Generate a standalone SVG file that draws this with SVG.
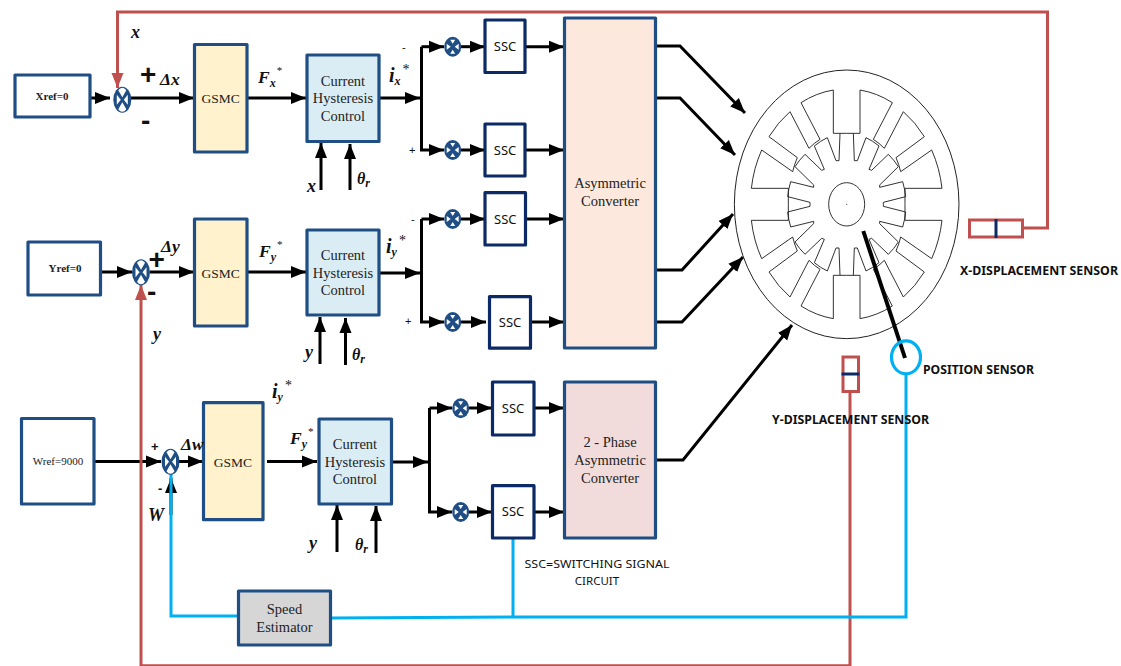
<svg xmlns="http://www.w3.org/2000/svg" width="1121" height="666" viewBox="0 0 1121 666">
<style>
.b{stroke:#1f4e85;stroke-width:3.2;stroke-linejoin:round}
.s{fill:#fff;stroke:#0b2a66;stroke-width:3.2;stroke-linejoin:round}
.w{fill:#fff}.g{fill:#fff2cc}.c{fill:#daedf4}
text{font-family:"Liberation Serif","Times New Roman",serif;fill:#222}
.t{font-size:14.5px;text-anchor:middle}
.ssc{font-family:"Noto Sans","Open Sans",sans-serif;font-size:13px;text-anchor:middle;fill:#111}
.cal{font-family:"Noto Sans","Open Sans",sans-serif;font-size:11.5px;fill:#111}
.calb{font-family:"Noto Sans","Open Sans",sans-serif;font-size:11.5px;font-weight:700;fill:#111}
.i{font-style:italic;font-weight:700;font-size:18px;fill:#111}
.d{font-size:17.5px}.th{font-size:16px}
.sub{font-size:12px}.sup{font-size:11px;font-weight:400;font-style:normal}
.sign{font-family:"Liberation Sans",Arial,sans-serif;fill:#111}
.big{font-size:28px;font-weight:700}
.k{fill:none;stroke:#000;stroke-width:3;marker-end:url(#ah)}
.r{fill:none;stroke:#c0504d;stroke-width:3}
.l{fill:none;stroke:#00b0f0;stroke-width:3}
.m{fill:none;stroke:#222;stroke-width:2.8}
</style>
<defs>
<marker id="ah" markerUnits="userSpaceOnUse" markerWidth="16" markerHeight="14" refX="15" refY="7" orient="auto"><path d="M0,1 L15,7 L0,13z" fill="#000"/></marker>
<marker id="ar" markerUnits="userSpaceOnUse" markerWidth="16" markerHeight="14" refX="15" refY="7" orient="auto"><path d="M0,1 L15,7 L0,13z" fill="#c0504d"/></marker>
<g id="q">
<path class="m" d="M0,-213 L40,-213 L40,-343 A289,344 0 0 1 137,-305 L80,-195 A180,213 0 0 1 113,-168 L170,-278 A289,344 0 0 1 233,-203 L148,-140 A180,213 0 0 1 162,-98 L255,-163 A289,344 0 0 1 286,-48 L175,-48 L175,0"/>
<path class="m" d="M20,-213 L23,-131 L32,-131 L58,-200 A180,213 0 0 1 97,-175 L67,-105 L75,-102 L125,-150 A180,213 0 0 1 155,-113 L99,-58 L99,-51 L168,-68 A180,213 0 0 1 177,-23 L110,-6 L110,0"/>
</g>
<g id="jb"><ellipse rx="9" ry="13" fill="#1f4e85"/><path fill="#fff" d="M0,-2.5 L-4,-9.5 A6,10 0 0 1 4,-9.5z M0,2.5 L-4,9.5 A6,10 0 0 0 4,9.5z M1.5,0 L5.5,-5 L5.5,5z M-1.5,0 L-5.5,-5 L-5.5,5z"/></g>
<g id="js"><ellipse rx="8.5" ry="10" fill="#1f4e85"/><path fill="#fff" d="M0,-3 L-2.5,-7 L2.5,-7z M0,3 L-2.5,7 L2.5,7z M2,0 L6,-3 L6,3z M-2,0 L-6,-3 L-6,3z"/></g>
</defs>

<g id="connectors">
<path class="k" d="M91,98H110"/>
<path class="k" d="M131,98H194"/>
<path class="k" d="M247,98H306"/>
<path class="k" d="M379,98H420"/>
<path class="k" d="M421.5,46.7V150H444"/>
<path class="k" d="M421.5,46.7H444"/>
<path class="k" d="M461,46.7H485"/>
<path class="k" d="M461,150H485"/>
<path class="k" d="M525,46.7H564"/>
<path class="k" d="M525,150H564"/>
<path class="k" d="M321,190V143"/>
<path class="k" d="M350,190V144"/>
<path class="k" d="M102,272H132"/>
<path class="k" d="M150,272H194"/>
<path class="k" d="M247,272H306"/>
<path class="k" d="M379,273H420"/>
<path class="k" d="M421.5,219V322H444"/>
<path class="k" d="M421.5,219H444"/>
<path class="k" d="M461,219H485"/>
<path class="k" d="M461,322H486"/>
<path class="k" d="M525,219H564"/>
<path class="k" d="M530,322H564"/>
<path class="k" d="M320,364V317"/>
<path class="k" d="M345.5,365V318"/>
<path class="k" d="M94,461.5H161"/>
<path class="k" d="M179,461.5H203"/>
<path class="k" d="M267,461.5H317"/>
<path class="k" d="M391,462H428"/>
<path class="k" d="M429.5,408V512H452"/>
<path class="k" d="M429.5,408H452"/>
<path class="k" d="M469,408H492"/>
<path class="k" d="M469,512H492"/>
<path class="k" d="M534,408H564"/>
<path class="k" d="M534,512H564"/>
<path class="k" d="M337,552V505"/>
<path class="k" d="M376,553V506"/>
<path class="k" d="M171,515V478"/>
<path class="k" d="M656,46H680L745,113"/>
<path class="k" d="M656,98H680L735,155"/>
<path class="k" d="M656,270H682L733,214"/>
<path class="k" d="M656,322H682L743,257"/>
<path class="k" d="M657,460H683L792,325"/>
<path class="r" marker-end="url(#ar)" d="M117.5,12V88"/>
<path class="r" d="M116,12H1047.5V228H1023"/>
<path class="r" marker-end="url(#ar)" d="M141,666V285"/>
<path class="r" d="M141,665.7H850V392"/>
<path class="l" d="M171,473V616H238"/>
<path class="l" d="M331,618L513,617H906V375"/>
<path class="l" d="M513,538V617"/>
</g>

<g id="motor">
<ellipse cx="846.67" cy="204.33" rx="112.3" ry="134.3" fill="none" stroke="#222" stroke-width="1"/>
<g transform="translate(846.67,204.33) scale(.3333)">
<use href="#q"/><use href="#q" transform="scale(-1,1)"/><use href="#q" transform="scale(1,-1)"/><use href="#q" transform="scale(-1,-1)"/>
<ellipse rx="54" ry="65" fill="#fff" stroke="#222" stroke-width="2.8"/>
<circle r="1.5" fill="#111"/>
</g>
<path d="M863.3,231L905,358" fill="none" stroke="#000" stroke-width="4"/>
</g>

<g id="xref"><rect class="b w" x="15" y="75" width="75" height="42"/><text class="t" x="52" y="100" style="font-size:11px;font-weight:700">Xref=0</text></g>
<g id="yref"><rect class="b w" x="28" y="242" width="72.5" height="53"/><text class="t" x="65" y="272" style="font-size:11px;font-weight:700">Yref=0</text></g>
<g id="wref"><rect class="b w" x="21.5" y="418.5" width="72.5" height="85.5"/><text class="t" x="58" y="465" style="font-size:11px">Wref=9000</text></g>

<g id="sum-x"><use href="#jb" x="122.3" y="99.7"/></g>
<g id="sum-y"><use href="#jb" x="141" y="272.3"/></g>
<g id="sum-w"><use href="#jb" x="170.5" y="461.7"/></g>

<g id="gsmc-1"><rect class="b g" x="194.5" y="44.5" width="52.5" height="107.5"/><text class="t" x="220.7" y="103" style="font-size:13.5px">GSMC</text></g>
<g id="gsmc-2"><rect class="b g" x="194.5" y="219" width="52.5" height="107"/><text class="t" x="220.7" y="278" style="font-size:13.5px">GSMC</text></g>
<g id="gsmc-3"><rect class="b g" x="203.5" y="402.7" width="59.5" height="117"/><text class="t" x="233" y="466.7" style="font-size:13.5px">GSMC</text></g>

<g id="chc-1"><rect class="b c" x="307" y="55" width="72" height="86.5"/><text class="t"><tspan x="343" y="85.7">Current</tspan><tspan x="343" y="103.3">Hysteresis</tspan><tspan x="343" y="121">Control</tspan></text></g>
<g id="chc-2"><rect class="b c" x="307" y="230" width="72" height="85"/><text class="t"><tspan x="343" y="260">Current</tspan><tspan x="343" y="277.5">Hysteresis</tspan><tspan x="343" y="295">Control</tspan></text></g>
<g id="chc-3"><rect class="b c" x="319" y="419" width="72.5" height="85"/><text class="t"><tspan x="355" y="449">Current</tspan><tspan x="355" y="466.5">Hysteresis</tspan><tspan x="355" y="484">Control</tspan></text></g>

<g id="j1"><use href="#js" x="452.7" y="46.7"/></g>
<g id="j2"><use href="#js" x="452.7" y="150"/></g>
<g id="j3"><use href="#js" x="452.7" y="219"/></g>
<g id="j4"><use href="#js" x="452.7" y="322"/></g>
<g id="j5"><use href="#js" x="460.7" y="408.3"/></g>
<g id="j6"><use href="#js" x="460.7" y="512"/></g>

<g id="ssc-1"><rect class="s" x="485" y="20" width="40" height="52.5"/><text class="ssc" x="505" y="51">SSC</text></g>
<g id="ssc-2"><rect class="s" x="485" y="124" width="40" height="52"/><text class="ssc" x="505" y="154.5">SSC</text></g>
<g id="ssc-3"><rect class="s" x="485" y="192.7" width="40.5" height="52.3"/><text class="ssc" x="505.3" y="223.5">SSC</text></g>
<g id="ssc-4"><rect class="s" x="489.5" y="296.7" width="41" height="51.5"/><text class="ssc" x="510" y="326.5">SSC</text></g>
<g id="ssc-5"><rect class="s" x="492.5" y="382" width="41.5" height="53"/><text class="ssc" x="513" y="413">SSC</text></g>
<g id="ssc-6"><rect class="s" x="492.5" y="485.7" width="41.5" height="52.3"/><text class="ssc" x="513" y="516">SSC</text></g>

<g id="asym"><rect class="b" x="564.5" y="18" width="91" height="330" fill="#fce8dc"/><text class="t"><tspan x="610" y="188">Asymmetric</tspan><tspan x="610" y="206">Converter</tspan></text></g>
<g id="phase2"><rect class="b" x="564.5" y="382" width="91" height="156" fill="#f2dcdb"/><text class="t"><tspan x="610" y="447">2 - Phase</tspan><tspan x="610" y="465">Asymmetric</tspan><tspan x="610" y="483">Converter</tspan></text></g>
<g id="speed"><rect class="b" x="238.5" y="591" width="92" height="54" fill="#d6d6d6"/><text class="t"><tspan x="284.5" y="614">Speed</tspan><tspan x="284.5" y="632">Estimator</tspan></text></g>

<g id="x-sensor"><rect x="969.5" y="220" width="53" height="17" fill="#fff" stroke="#c0504d" stroke-width="3"/><path d="M996,219V238" stroke="#0b2a66" stroke-width="3"/><text class="calb" x="960" y="275" textLength="158" lengthAdjust="spacingAndGlyphs">X-DISPLACEMENT SENSOR</text></g>
<g id="y-sensor"><rect x="843" y="357" width="15.5" height="34.5" fill="#fff" stroke="#c0504d" stroke-width="3"/><path d="M841.5,374H859.5" stroke="#0b2a66" stroke-width="3"/><text class="calb" x="772" y="424" textLength="157" lengthAdjust="spacingAndGlyphs">Y-DISPLACEMENT SENSOR</text></g>
<g id="position-sensor"><ellipse cx="906" cy="357.3" rx="14.5" ry="16.5" fill="none" stroke="#00b0f0" stroke-width="3.2"/><text class="calb" x="923" y="374" textLength="111" lengthAdjust="spacingAndGlyphs">POSITION SENSOR</text></g>

<g id="labels">
<text class="i" x="131" y="38">x</text>
<text class="sign big" x="140" y="83.5">+</text>
<text class="sign big" x="141" y="129.5">-</text>
<text class="i d" x="160" y="85">Δx</text>
<text class="i d" x="258" y="83">F<tspan class="sub" dy="4">x</tspan><tspan class="sup" dx="1" dy="-13">*</tspan></text>
<text class="i" x="389" y="82" style="font-size:20px">i<tspan class="sub" dy="3">x</tspan><tspan class="sup" style="font-size:14px" dx="2" dy="-11">*</tspan></text>
<text class="sign" x="402" y="51" style="font-size:11px">-</text>
<text class="sign" x="409" y="154" style="font-size:11px">+</text>
<text class="i" x="307" y="192">x</text>
<text class="i th" x="357" y="184">θ<tspan class="sub" dy="3">r</tspan></text>

<text class="sign big" x="148.5" y="268.5">+</text>
<text class="sign big" x="147" y="300.5">-</text>
<text class="i d" x="161" y="252">Δy</text>
<text class="i" x="153" y="340">y</text>
<text class="i d" x="259" y="257">F<tspan class="sub" dy="4">y</tspan><tspan class="sup" dx="1" dy="-13">*</tspan></text>
<text class="i" x="386" y="253" style="font-size:20px">i<tspan class="sub" dy="3">y</tspan><tspan class="sup" style="font-size:14px" dx="2" dy="-11">*</tspan></text>
<text class="sign" x="411" y="223" style="font-size:11px">-</text>
<text class="sign" x="405" y="325" style="font-size:11px">+</text>
<text class="i" x="305" y="358">y</text>
<text class="i th" x="352" y="360">θ<tspan class="sub" dy="3">r</tspan></text>

<text class="i" x="272" y="398" style="font-size:20px">i<tspan class="sub" dy="3">y</tspan><tspan class="sup" style="font-size:14px" dx="2" dy="-11">*</tspan></text>
<text class="i d" x="290" y="444">F<tspan class="sub" dy="4">y</tspan><tspan class="sup" dx="1" dy="-13">*</tspan></text>
<text class="sign" x="151" y="451" style="font-size:13px;font-weight:700">+</text>
<text class="sign" x="158" y="493" style="font-size:13px;font-weight:700">-</text>
<text class="i d" x="181" y="450">Δw</text>
<text class="i" x="148" y="521">W</text>
<text class="i" x="309" y="549">y</text>
<text class="i th" x="355" y="550">θ<tspan class="sub" dy="3">r</tspan></text>
<text class="cal" x="524.5" y="568" textLength="145" lengthAdjust="spacingAndGlyphs">SSC=SWITCHING SIGNAL</text>
<text class="cal" x="597" y="585" text-anchor="middle">CIRCUIT</text>
</g>
</svg>
